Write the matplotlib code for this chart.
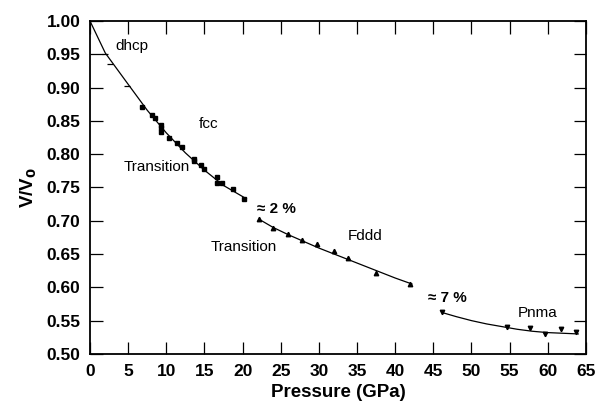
#!/usr/bin/env python3
"""V/V0 vs pressure: dhcp -> fcc -> Fddd -> Pnma."""
import matplotlib
matplotlib.use("Agg")
import matplotlib.pyplot as plt

plt.rcParams['font.family'] = ['Liberation Sans', 'DejaVu Sans']

# dhcp points (small dash markers)
dhcp_p = [1.96, 2.6, 4.8]
dhcp_v = [0.950, 0.936, 0.903]
# fcc points (squares)
fcc_p = [6.8, 8.1, 8.5, 9.3, 9.3, 9.3, 10.4, 11.4, 12.0, 13.6, 13.6, 14.5, 15.0,
         16.6, 16.6, 17.3, 18.8, 20.2]
fcc_v = [0.871, 0.859, 0.855, 0.844, 0.840, 0.834, 0.825, 0.817, 0.811, 0.793,
         0.789, 0.783, 0.777, 0.766, 0.757, 0.757, 0.747, 0.732]
# fcc/dhcp guide line
fcc_line_p = [0.0, 2.0, 5.0, 7.5, 10.0, 12.5, 15.0, 17.5, 20.5]
fcc_line_v = [1.000, 0.952, 0.905, 0.866, 0.832, 0.802, 0.776, 0.753, 0.733]
# Fddd points (up triangles)
fddd_p = [22.2, 24.0, 26.0, 27.8, 29.8, 32.0, 33.8, 37.5, 41.9]
fddd_v = [0.702, 0.689, 0.680, 0.671, 0.665, 0.654, 0.644, 0.621, 0.605]
fddd_line_p = [22.2, 24.0, 26.0, 28.0, 30.0, 32.0, 34.0, 36.0, 38.0, 40.0, 42.2]
fddd_line_v = [0.702, 0.690, 0.679, 0.669, 0.659, 0.650, 0.641, 0.632, 0.623, 0.614, 0.605]
# Pnma points (down triangles)
pnma_p = [46.2, 54.6, 57.7, 59.7, 61.7, 63.7]
pnma_v = [0.563, 0.540, 0.539, 0.530, 0.537, 0.533]
pnma_line_p = [46.2, 48.0, 50.0, 52.0, 54.0, 56.0, 58.0, 60.0, 62.0, 64.0]
pnma_line_v = [0.562, 0.556, 0.550, 0.545, 0.541, 0.537, 0.534, 0.532, 0.531, 0.530]

fig = plt.figure(figsize=(5.96, 4.04), dpi=100)
ax = fig.add_axes([0.151, 0.124, 0.832, 0.824])

ax.plot(fcc_line_p, fcc_line_v, color='black', lw=0.9)
ax.plot(fddd_line_p, fddd_line_v, color='black', lw=0.9)
ax.plot(pnma_line_p, pnma_line_v, color='black', lw=0.9)

ax.plot(dhcp_p, dhcp_v, '_', color='black', ms=4, mew=0.9)
ax.plot(fcc_p, fcc_v, 's', color='black', ms=3.2)
ax.plot(fddd_p, fddd_v, '^', color='black', ms=3.2)
ax.plot(pnma_p, pnma_v, 'v', color='black', ms=3.2)

ax.text(5.5, 0.963, 'dhcp', fontsize=11, ha='center', va='center')
ax.text(15.5, 0.846, 'fcc', fontsize=11, ha='center', va='center')
ax.text(8.7, 0.780, 'Transition', fontsize=11, ha='center', va='center')
ax.text(24.5, 0.717, '≈ 2 %', fontsize=11, fontweight='bold', ha='center', va='center')
ax.text(20.2, 0.660, 'Transition', fontsize=11, ha='center', va='center')
ax.text(36.0, 0.677, 'Fddd', fontsize=11, ha='center', va='center')
ax.text(46.9, 0.584, '≈ 7 %', fontsize=11, fontweight='bold', ha='center', va='center')
ax.text(58.7, 0.561, 'Pnma', fontsize=11, ha='center', va='center')

ax.set_xlim(0, 65)
ax.set_ylim(0.5, 1.0)
ax.set_xticks(range(0, 66, 5))
ax.set_yticks([0.50 + 0.05 * k for k in range(11)])
ax.set_yticklabels([f'{0.50 + 0.05 * k:.2f}' for k in range(11)])
ax.tick_params(direction='in', length=9, width=0.9, top=True, right=True,
               labelsize=12.5, pad=7)
for lab in ax.get_xticklabels() + ax.get_yticklabels():
    lab.set_fontweight('bold')
for s in ax.spines.values():
    s.set_linewidth(1.3)

ax.set_xlabel('Pressure (GPa)', fontsize=13.5, fontweight='bold', labelpad=4)
ax.set_ylabel('V/V$_\\mathbf{0}$', fontsize=13.5, fontweight='bold', labelpad=5)

fig.savefig('out.png', dpi=100, facecolor='white')
